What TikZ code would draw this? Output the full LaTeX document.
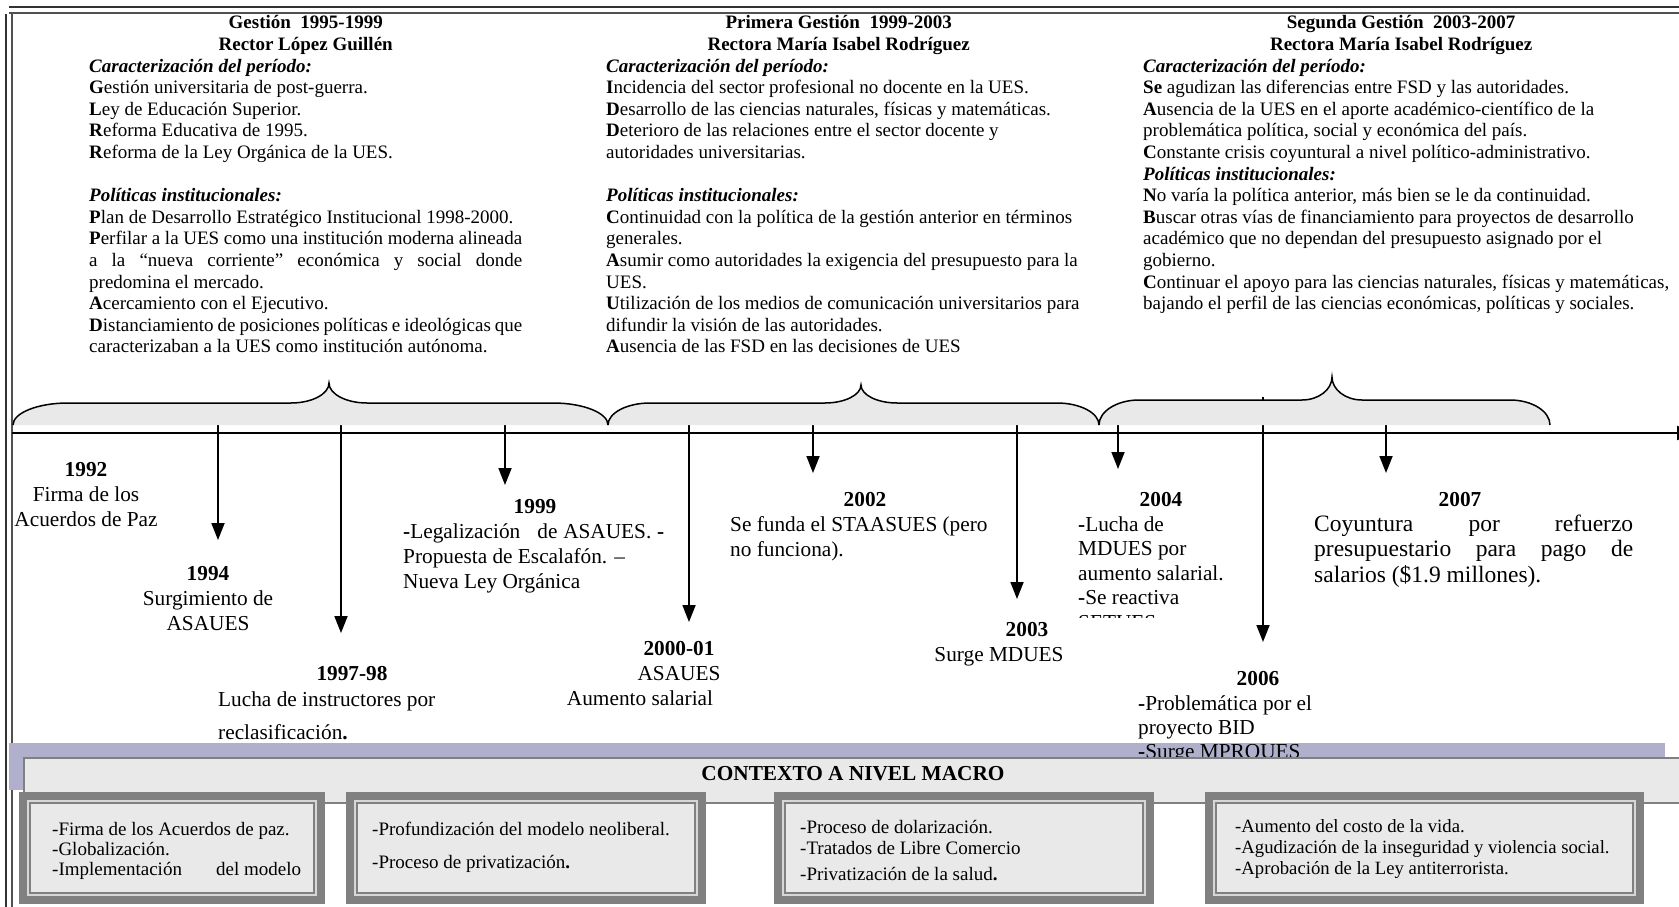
\documentclass[tikz,border=0pt]{standalone}
\usepackage{fontspec}
\setmainfont{Liberation Serif}
\usetikzlibrary{arrows.meta}
\newcommand\myfs[2]{\fontsize{#1pt}{#2pt}\selectfont}
\definecolor{lav}{RGB}{176,176,204}
\definecolor{fillgray}{RGB}{233,233,233}
\definecolor{framegray}{RGB}{128,128,128}
\definecolor{lightline}{RGB}{215,215,215}
\definecolor{borddark}{RGB}{50,50,50}
\definecolor{bordmid}{RGB}{80,80,80}
\tikzset{
  bordA/.style={line width=2pt, draw=borddark},
  bordB/.style={line width=2pt, draw=bordmid},
  tl/.style={line width=2pt, -{Triangle[width=14pt,length=18pt]}},
  evarrow/.style={line width=1.8pt, -{Triangle[width=13pt,length=17pt]}},
  bracefill/.style={fill=fillgray},
  bracestroke/.style={line width=1.5pt},
  lbl/.style={inner sep=0pt, anchor=base},
  lblw/.style={inner sep=0pt, anchor=base west},
  ctx/.style={fill=fillgray, draw=framegray, line width=1.5pt},
  bracep/.style n args={8}{insert path={(#1,#6) .. controls (#1,{#6-0.55*(#6-#4)}) and ({#1+0.45*#7},#4) .. ({#1+#7},#4) -- ({#2-#8},#4) .. controls ({#2-0.45*#8},#4) and (#2,{#4-0.45*(#4-#5)}) .. (#2,#5) .. controls (#2,{#4-0.45*(#4-#5)}) and ({#2+0.45*#8},#4) .. ({#2+#8},#4) -- ({#3-#7},#4) .. controls ({#3-0.45*#7},#4) and (#3,{#6-0.55*(#6-#4)}) .. (#3,#6)}}
}
\begin{document}
\begin{tikzpicture}[x=1pt,y=-1pt]
\useasboundingbox (0,0) rectangle (1679,907);
\begin{scope}
\clip (0,0) rectangle (1679,907);
% page frame
\draw[bordA] (9,7) -- (1690,7);
\draw[bordB] (9,13) -- (1690,13);
\draw[bordA] (6,14) -- (6,910);
\draw[bordB] (12,13) -- (12,910);

% top columns
\node[lblw] (col1) at (89,29) {\parbox[t]{700pt}{\myfs{19}{21.6}\raggedright
\makebox[433pt][c]{\textbf{Gestión\ \ 1995-1999}}\\
\makebox[433pt][c]{\textbf{Rector López Guillén}}\\
\textbf{\textit{Caracterización del período:}}\\
\textbf{G}estión universitaria de post-guerra.\\
\textbf{L}ey de Educación Superior.\\
\textbf{R}eforma Educativa de 1995.\\
\textbf{R}eforma de la Ley Orgánica de la UES.\\[21.6pt]
\textbf{\textit{Políticas institucionales:}}\\
\textbf{P}lan de Desarrollo Estratégico Institucional 1998-2000.\\
\makebox[433pt][s]{\textbf{P}erfilar a la UES como una institución moderna alineada}\\
\makebox[433pt][s]{a la “nueva corriente” económica y social donde}\\
predomina el mercado.\\
\textbf{A}cercamiento con el Ejecutivo.\\
\makebox[433pt][s]{\textbf{D}istanciamiento de posiciones políticas e ideológicas que}\\
caracterizaban a la UES como institución autónoma.}};

\node[lblw] (col2) at (606,29) {\parbox[t]{700pt}{\myfs{19}{21.6}\raggedright
\makebox[465pt][c]{\textbf{Primera Gestión\ \ 1999-2003}}\\
\makebox[465pt][c]{\textbf{Rectora María Isabel Rodríguez}}\\
\textbf{\textit{Caracterización del período:}}\\
\textbf{I}ncidencia del sector profesional no docente en la UES.\\
\textbf{D}esarrollo de las ciencias naturales, físicas y matemáticas.\\
\textbf{D}eterioro de las relaciones entre el sector docente y\\
autoridades universitarias.\\[21.6pt]
\textbf{\textit{Políticas institucionales:}}\\
\textbf{C}ontinuidad con la política de la gestión anterior en términos\\
generales.\\
\textbf{A}sumir como autoridades la exigencia del presupuesto para la\\
UES.\\
\textbf{U}tilización de los medios de comunicación universitarios para\\
difundir la visión de las autoridades.\\
\textbf{A}usencia de las FSD en las decisiones de UES}};

\node[lblw] (col3) at (1143,29) {\parbox[t]{700pt}{\myfs{19}{21.6}\raggedright
\makebox[516pt][c]{\textbf{Segunda Gestión\ \ 2003-2007}}\\
\makebox[516pt][c]{\textbf{Rectora María Isabel Rodríguez}}\\
\textbf{\textit{Caracterización del período:}}\\
\textbf{Se} agudizan las diferencias entre FSD y las autoridades.\\
\textbf{A}usencia de la UES en el aporte académico-científico de la\\
problemática política, social y económica del país.\\
\textbf{C}onstante crisis coyuntural a nivel político-administrativo.\\
\textbf{\textit{Políticas institucionales:}}\\
\textbf{N}o varía la política anterior, más bien se le da continuidad.\\
\textbf{B}uscar otras vías de financiamiento para proyectos de desarrollo\\
académico que no dependan del presupuesto asignado por el\\
gobierno.\\
\textbf{C}ontinuar el apoyo para las ciencias naturales, físicas y matemáticas,\\
bajando el perfil de las ciencias económicas, políticas y sociales.}};

% event arrows
\foreach \n/\x/\ys/\ye in {1/218/425/540, 2/341/425/633, 3/505/425/485, 4/689/425/622, 5/813/425/473, 6/1017/425/599, 7/1118/425/469, 8/1263/397/642, 9/1386/425/473} {
  \coordinate (a\n s) at (\x,\ys);
  \coordinate (a\n e) at (\x,\ye);
  \draw[evarrow] (a\n s) -- (a\n e);
}

% braces
\fill[bracefill, bracep={13}{329}{608}{403}{383}{425}{55}{38}] -- cycle;
\draw[bracestroke, bracep={13}{329}{608}{403}{383}{425}{55}{38}];
\fill[bracefill, bracep={608}{861}{1099}{403}{385}{425}{42}{36}] -- cycle;
\draw[bracestroke, bracep={608}{861}{1099}{403}{385}{425}{42}{36}];
\fill[bracefill, bracep={1099}{1332}{1550}{400}{377}{425}{40}{30}] -- cycle;
\draw[bracestroke, bracep={1099}{1332}{1550}{400}{377}{425}{40}{30}];

% time line
\coordinate (tls) at (12,433);
\coordinate (tle) at (1695,433);
\draw[tl] (tls) -- (tle);

% event labels
\node[lbl] (y1992) at (86,476) {\myfs{21.3}{25}\textbf{1992}};
\node[lbl] (t1992) at (86,501) {\parbox[t]{200pt}{\centering\myfs{21.3}{25}Firma de los\\Acuerdos de Paz}};

\node[lbl] (y1994) at (208,580) {\myfs{21.3}{25}\textbf{1994}};
\node[lbl] (t1994) at (208,605) {\parbox[t]{200pt}{\centering\myfs{21.3}{25}Surgimiento de\\ASAUES}};

\node[lbl] (y1997) at (352,680) {\myfs{21.3}{25}\textbf{1997-98}};
\node[lblw] (t1997) at (218,706) {\parbox[t]{260pt}{\raggedright\myfs{21.3}{25}Lucha de instructores por\\[8pt]reclasificación\textbf{.}}};

\node[lbl] (y1999) at (535,513) {\myfs{21.3}{25}\textbf{1999}};
\node[lblw] (t1999) at (403,538) {\parbox[t]{261pt}{\raggedright\myfs{21.3}{25}\makebox[\linewidth][s]{\textbf{-}Legalización\ \ \ de ASAUES. \textbf{-}}\\Propuesta de Escalafón. –\\Nueva Ley Orgánica}};

\node[lbl] (y2000) at (679,655) {\myfs{21.3}{25}\textbf{2000-01}};
\node[lbl] (t2000a) at (679,680) {\myfs{21.3}{25}ASAUES};
\node[lbl] (t2000b) at (640,705) {\myfs{21.3}{25}Aumento salarial};

\node[lbl] (y2002) at (865,506) {\myfs{21.3}{25}\textbf{2002}};
\node[lblw] (t2002) at (730,531) {\parbox[t]{280pt}{\raggedright\myfs{21.3}{25}Se funda el STAASUES (pero\\no funciona).}};

\node[lbl] (y2003) at (1027,636) {\myfs{21.3}{25}\textbf{2003}};
\node[lbl] (t2003) at (999,661) {\myfs{21.3}{25}Surge MDUES};

\node[lbl] (y2004) at (1161,506) {\myfs{21.3}{25}\textbf{2004}};
\begin{scope}
\clip (1060,480) rectangle (1240,617);
\node[lblw] (t2004) at (1078,531) {\parbox[t]{160pt}{\raggedright\myfs{21.3}{24.5}\textbf{-}Lucha de\\MDUES por\\aumento salarial.\\\textbf{-}Se reactiva\\SETUES}};
\end{scope}

\node[lbl] (y2007) at (1460,506) {\myfs{21.3}{25}\textbf{2007}};
\node[lblw] (t2007) at (1314,531) {\parbox[t]{319pt}{\myfs{23.5}{25.5}%
\makebox[\linewidth][s]{Coyuntura por refuerzo}\\
\makebox[\linewidth][s]{presupuestario para pago de}\\
salarios (\$1.9 millones).}};

% macro context band
\fill[lav] (9,743) rectangle (1665,790);
\node[lbl] (y2006) at (1258,685) {\myfs{21.3}{25}\textbf{2006}};
\node[lblw] (t2006) at (1138,710) {\parbox[t]{200pt}{\raggedright\myfs{21.3}{24}\textbf{-}Problemática por el\\proyecto BID\\\textbf{-}Surge MPROUES}};
\filldraw[ctx] (24,758) rectangle (1700,803);
\node[lbl] (ctxt) at (853,780) {\myfs{21.3}{24}\textbf{CONTEXTO A NIVEL MACRO}};

% macro boxes
\foreach \n/\xa/\xb in {1/19/325, 2/346/706, 3/774/1154, 4/1205/1644} {
  \fill[framegray] (\xa,792) rectangle (\xb,904);
  \fill[lightline] ({\xa+8},800) rectangle ({\xb-8},896);
  \filldraw[fill=fillgray, draw=framegray, line width=1.2pt] ({\xa+11},803) rectangle ({\xb-11},893);
}
\node[lblw] (m1) at (52,835) {\parbox[t]{400pt}{\raggedright\myfs{19}{20}-Firma de los Acuerdos de paz.\\-Globalización.\\-Implementación\hspace{1.8em}del modelo}};
\node[lblw] (m2) at (372,835) {\parbox[t]{400pt}{\raggedright\myfs{19}{19.8}-Profundización del modelo neoliberal.\\[14pt]-Proceso de privatización\textbf{.}}};
\node[lblw] (m3) at (800,833) {\parbox[t]{400pt}{\raggedright\myfs{19}{21.5}-Proceso de dolarización.\\-Tratados de Libre Comercio\\[4pt]-Privatización de la salud\textbf{.}}};
\node[lblw] (m4) at (1235,832) {\parbox[t]{420pt}{\raggedright\myfs{18.7}{21}-Aumento del costo de la vida.\\-Agudización de la inseguridad y violencia social.\\-Aprobación de la Ley antiterrorista.}};
\end{scope}
\end{tikzpicture}
\end{document}
